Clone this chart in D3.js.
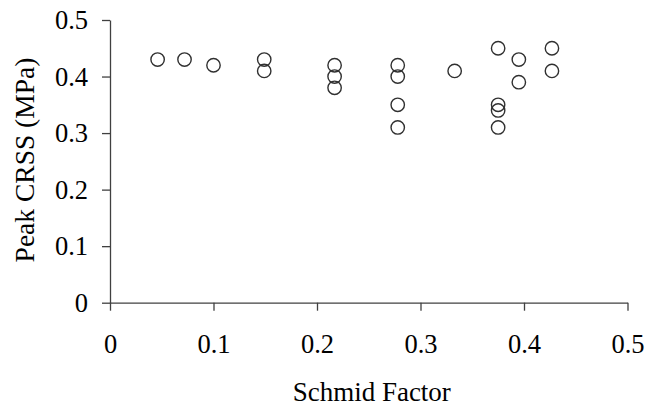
<!DOCTYPE html>
<html lang="en">
<head>
    <meta charset="utf-8" />
    <title>Peak CRSS vs Schmid Factor</title>
    <script src="https://d3js.org/d3.v7.min.js"></script>
    <style>
        body { margin: 0; background: white; }
        svg { display: block; background: white; }
        text {
            font-family: 'Liberation Serif', 'Times New Roman', serif;
            font-size: 26px;
            fill: black;
        }
        .axis path, .axis line {
            stroke: #404040;
            stroke-width: 1.3;
        }
    </style>
</head>
<body>
    <script>

        // Data
        const schmidFactor = [0.046, 0.072, 0.1, 0.149, 0.149, 0.217, 0.217, 0.217,
            0.278, 0.278, 0.278, 0.278, 0.333, 0.375, 0.375, 0.375, 0.375,
            0.395, 0.395, 0.427, 0.427];
        const peakCRSS = [0.43, 0.43, 0.42, 0.43, 0.41, 0.42, 0.40, 0.38,
            0.42, 0.40, 0.35, 0.31, 0.41, 0.45, 0.35, 0.34, 0.31,
            0.43, 0.39, 0.45, 0.41];
        const xTicks = [0, 0.1, 0.2, 0.3, 0.4, 0.5];
        const yTicks = [0, 0.1, 0.2, 0.3, 0.4, 0.5];

        const points = schmidFactor.map((s, i) => ({ x: s, y: peakCRSS[i] }));

        const width = 656;
        const height = 409;

        const svg = d3.select("body")
            .append("svg")
            .attr("width", width)
            .attr("height", height);

        // Scales
        const xScale = d3.scaleLinear()
            .domain([0, 0.5])
            .range([110, 627.5]);

        const yScale = d3.scaleLinear()
            .domain([0, 0.5])
            .range([302.7, 20]);

        // X axis
        const xAxis = svg.append("g")
            .attr("class", "axis")
            .attr("transform", `translate(0, ${yScale(0)})`)
            .call(d3.axisBottom(xScale)
                .tickValues(xTicks)
                .tickFormat(d => d === 0 ? "0" : d3.format(".1f")(d))
                .tickSize(8)
                .tickSizeOuter(0)
                .tickPadding(23));
        xAxis.selectAll("text").attr("fill", "black");

        // Y axis
        const yAxis = svg.append("g")
            .attr("class", "axis")
            .attr("transform", `translate(${xScale(0)}, 0)`)
            .call(d3.axisLeft(yScale)
                .tickValues(yTicks)
                .tickFormat(d => d === 0 ? "0" : d3.format(".1f")(d))
                .tickSize(8)
                .tickSizeOuter(0)
                .tickPadding(14));
        yAxis.selectAll("text").attr("fill", "black");

        svg.selectAll(".axis text")
            .style("font-family", "'Liberation Serif', serif")
            .style("font-size", "26.5px");

        // Points
        svg.append("g")
            .selectAll("circle")
            .data(points)
            .join("circle")
            .attr("cx", d => xScale(d.x))
            .attr("cy", d => yScale(d.y))
            .attr("r", 6.7)
            .attr("fill", "none")
            .attr("stroke", "#303030")
            .attr("stroke-width", 1.4);

        // Axis titles
        svg.append("text")
            .attr("x", (xScale(0) + xScale(0.5)) / 2 + 3)
            .attr("y", 401)
            .attr("text-anchor", "middle")
            .style("font-size", "27px")
            .text("Schmid Factor");

        svg.append("text")
            .attr("transform", `translate(34, 160) rotate(-90)`)
            .attr("text-anchor", "middle")
            .style("font-size", "27.5px")
            .text("Peak CRSS (MPa)");

    </script>
</body>
</html>
